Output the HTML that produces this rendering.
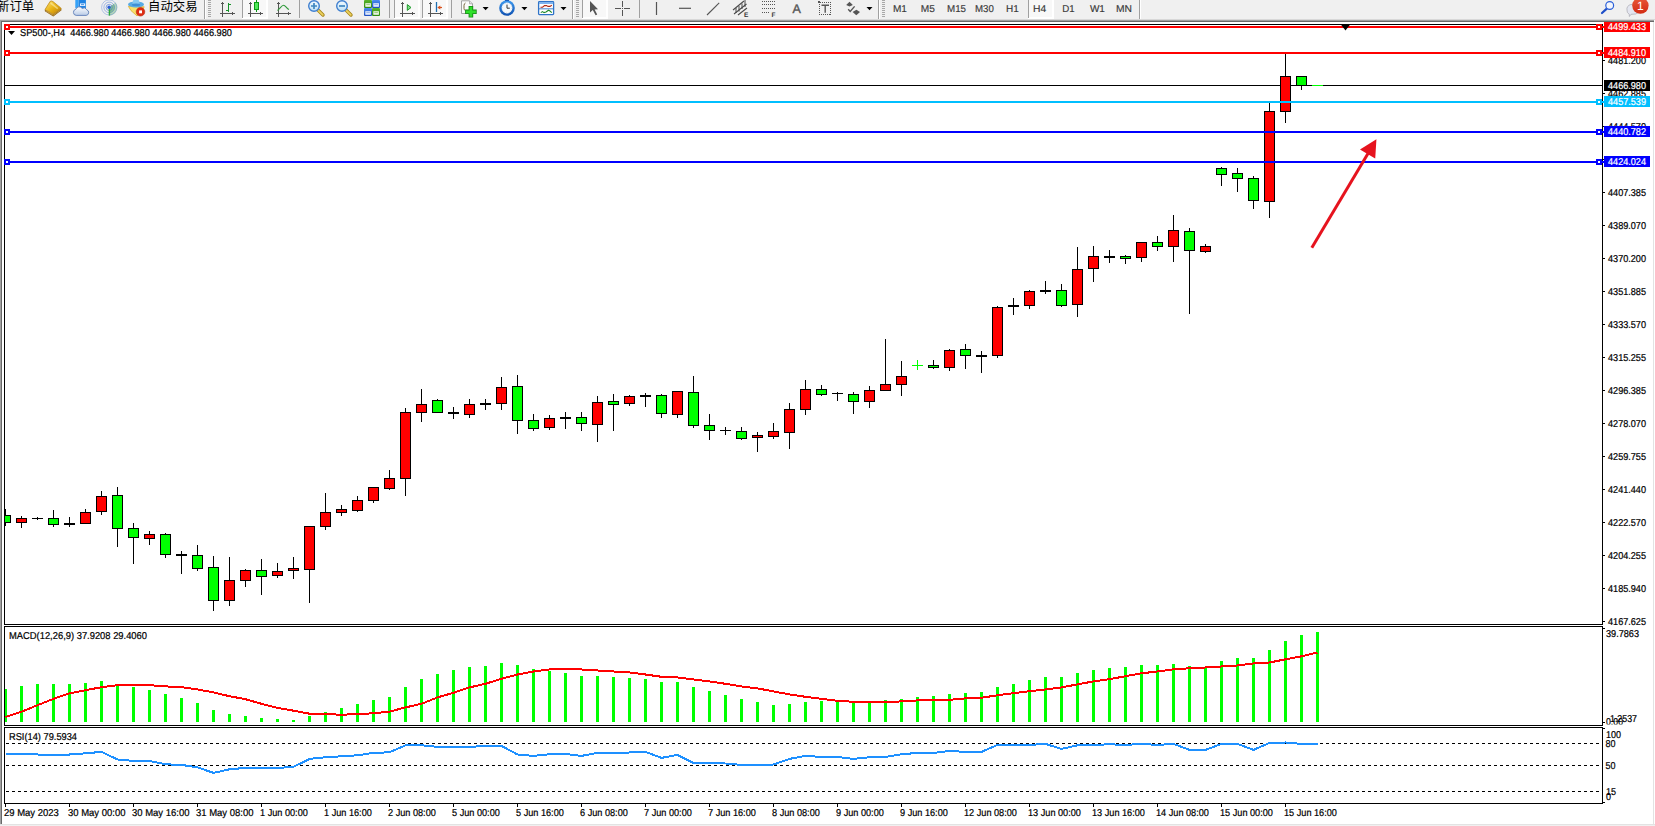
<!DOCTYPE html>
<html lang="zh-CN">
<head>
<meta charset="utf-8">
<title>SP500-,H4</title>
<style>
html,body{margin:0;padding:0;background:#fff;}
body{width:1655px;height:826px;overflow:hidden;position:relative;font-family:"Liberation Sans","Noto Sans CJK SC",sans-serif;}
#tb{position:absolute;left:0;top:0;width:1655px;height:20px;background:#f0f0f0;overflow:hidden;}
#tb .cjk{position:absolute;top:-2px;font-size:12.4px;line-height:18px;color:#000;white-space:nowrap;font-family:"Liberation Sans","Noto Sans CJK SC",sans-serif;}
#tb .tf{position:absolute;top:3px;font-size:9.5px;line-height:11px;color:#3c3c3c;white-space:nowrap;}
svg{position:absolute;left:0;top:0;}
svg text{font-family:"Liberation Sans",sans-serif;text-rendering:geometricPrecision;}
</style>
</head>
<body>
<div id="tb">
<span class="cjk" style="left:-3px">新订单</span>
<span class="cjk" style="left:148px">自动交易</span>
<svg id="tbi" width="1655" height="20" viewBox="0 0 1655 20">
<defs>
<linearGradient id="gold" x1="0" y1="0" x2="1" y2="1"><stop offset="0" stop-color="#fbe27a"/><stop offset="0.5" stop-color="#e9b416"/><stop offset="1" stop-color="#b97a08"/></linearGradient>
<linearGradient id="blu" x1="0" y1="0" x2="0" y2="1"><stop offset="0" stop-color="#5db4f5"/><stop offset="1" stop-color="#1c6fd6"/></linearGradient>
<linearGradient id="cld" x1="0" y1="0" x2="0" y2="1"><stop offset="0" stop-color="#ffffff"/><stop offset="1" stop-color="#b9cbe6"/></linearGradient>
<linearGradient id="lens" x1="0" y1="0" x2="0" y2="1"><stop offset="0" stop-color="#f4fbff"/><stop offset="1" stop-color="#bfe0f5"/></linearGradient>
<linearGradient id="grn" x1="0" y1="0" x2="0" y2="1"><stop offset="0" stop-color="#58b52a"/><stop offset="1" stop-color="#2f8a12"/></linearGradient>
<linearGradient id="bl2" x1="0" y1="0" x2="0" y2="1"><stop offset="0" stop-color="#4a8cf0"/><stop offset="1" stop-color="#1f4fc0"/></linearGradient>
<linearGradient id="redb" x1="0" y1="0" x2="0" y2="1"><stop offset="0" stop-color="#ea5a3a"/><stop offset="1" stop-color="#d22a12"/></linearGradient>
<linearGradient id="clk" x1="0" y1="0" x2="0" y2="1"><stop offset="0" stop-color="#3f9bf0"/><stop offset="1" stop-color="#0d4fb0"/></linearGradient>
</defs>
<!-- pressed buttons -->
<g shape-rendering="crispEdges">
<rect x="242" y="0" width="26" height="19" fill="#fff"/><rect x="242" y="0" width="24" height="17" fill="#f8f8f8"/><rect x="242" y="0" width="1" height="18" fill="#a0a0a0"/>
<rect x="394" y="0" width="26" height="19" fill="#fff"/><rect x="394" y="0" width="24" height="17" fill="#f8f8f8"/><rect x="394" y="0" width="1" height="18" fill="#a0a0a0"/>
<rect x="422" y="0" width="26" height="19" fill="#fff"/><rect x="422" y="0" width="24" height="17" fill="#f8f8f8"/><rect x="422" y="0" width="1" height="18" fill="#a0a0a0"/>
<rect x="582" y="0" width="26" height="19" fill="#fff"/><rect x="582" y="0" width="24" height="17" fill="#f8f8f8"/><rect x="582" y="0" width="1" height="18" fill="#a0a0a0"/>
<rect x="1028" y="0" width="26" height="19" fill="#fff"/><rect x="1028" y="0" width="24" height="17" fill="#f8f8f8"/><rect x="1028" y="0" width="1" height="18" fill="#a0a0a0"/>
<!-- toolbar separators -->
<rect x="204" y="0" width="1" height="20" fill="#a0a0a0"/><rect x="205" y="0" width="1" height="20" fill="#fff"/>
<rect x="572" y="0" width="1" height="20" fill="#a0a0a0"/><rect x="573" y="0" width="1" height="20" fill="#fff"/>
<rect x="878" y="0" width="1" height="20" fill="#a0a0a0"/><rect x="879" y="0" width="1" height="20" fill="#fff"/>
<rect x="1139" y="0" width="1" height="20" fill="#a0a0a0"/><rect x="1140" y="0" width="1" height="20" fill="#fff"/>
<!-- inner separators -->
<rect x="299" y="0" width="1" height="18" fill="#a0a0a0"/>
<rect x="389" y="0" width="1" height="18" fill="#a0a0a0"/>
<rect x="451" y="0" width="1" height="18" fill="#a0a0a0"/>
<rect x="639" y="0" width="1" height="18" fill="#a0a0a0"/>
<!-- grips -->
<g fill="#a8a8a8">
<rect x="208" y="0" width="3" height="1"/><rect x="208" y="2" width="3" height="1"/><rect x="208" y="4" width="3" height="1"/><rect x="208" y="6" width="3" height="1"/><rect x="208" y="8" width="3" height="1"/><rect x="208" y="10" width="3" height="1"/><rect x="208" y="12" width="3" height="1"/><rect x="208" y="14" width="3" height="1"/><rect x="208" y="16" width="3" height="1"/>
<rect x="576" y="0" width="3" height="1"/><rect x="576" y="2" width="3" height="1"/><rect x="576" y="4" width="3" height="1"/><rect x="576" y="6" width="3" height="1"/><rect x="576" y="8" width="3" height="1"/><rect x="576" y="10" width="3" height="1"/><rect x="576" y="12" width="3" height="1"/><rect x="576" y="14" width="3" height="1"/><rect x="576" y="16" width="3" height="1"/>
<rect x="882" y="0" width="3" height="1"/><rect x="882" y="2" width="3" height="1"/><rect x="882" y="4" width="3" height="1"/><rect x="882" y="6" width="3" height="1"/><rect x="882" y="8" width="3" height="1"/><rect x="882" y="10" width="3" height="1"/><rect x="882" y="12" width="3" height="1"/><rect x="882" y="14" width="3" height="1"/><rect x="882" y="16" width="3" height="1"/>
</g>
</g>
<!-- gold book -->
<g>
<polygon points="44.8,9.8 53,14.4 61.2,8.6 61.5,10.2 53.3,16.4 44.9,11.2" fill="#8a5a0a"/>
<path d="M46,11 L53.2,15.3 L61,9.6" fill="none" stroke="#e8c56a" stroke-width="0.6"/>
<path d="M50.2,1.3 Q51.6,0.5 53,1.6 L60.8,7.9 Q61.4,8.6 60.6,9.2 L53.1,14.3 L45,9.6 Z" fill="url(#gold)" stroke="#b8820f" stroke-width="0.7"/>
<path d="M50.6,3 L57.8,8.6" fill="none" stroke="#fff3b8" stroke-width="1.6" opacity="0.55"/>
</g>
<!-- server + cloud -->
<g>
<polygon points="75.3,0 78.6,0 78.6,9 75.3,8" fill="#35a2f8"/>
<rect x="78.6" y="0" width="7.3" height="9" fill="#1f84e4"/>
<rect x="80" y="3.4" width="5.2" height="2.6" fill="#e4f1ff"/>
<rect x="81" y="4.3" width="3" height="0.8" fill="#2a7bd8"/>
<path d="M76.2,15.4 a3.1,3.1 0 0 1 -0.4,-6.1 a3.6,3.6 0 0 1 6.4,-0.9 a3.3,3.3 0 0 1 4.6,1.4 a2.9,2.9 0 0 1 -0.6,5.6 z" fill="url(#cld)" stroke="#5f7fb8" stroke-width="0.9"/>
</g>
<!-- signal -->
<g fill="none">
<path d="M109.2,7.4 L109.2,15.4 A8,8 0 0 0 115.6,2.6 Z" fill="#7fc08a" opacity="0.55" stroke="none"/>
<path d="M109.2,7.4 L109.2,13 A5.6,5.6 0 0 0 113.6,4 Z" fill="#5fae6e" opacity="0.5" stroke="none"/>
<circle cx="109.2" cy="7.4" r="7.6" stroke="#6f92d8" stroke-width="0.9" opacity="0.55"/>
<circle cx="109.2" cy="7.4" r="5.3" stroke="#5a82d4" stroke-width="0.9" opacity="0.6"/>
<circle cx="109.2" cy="7.4" r="3.1" stroke="#4a74cf" stroke-width="0.9" opacity="0.7"/>
<path d="M109.4,15.6 L109.4,8" stroke="#2faa3c" stroke-width="1.4"/>
<circle cx="109.1" cy="7.3" r="1.7" fill="#2b5fd6" stroke="none"/>
</g>
<!-- auto trading -->
<g>
<polygon points="128.4,6.4 144.2,6.8 141.5,12 137,15.9 131,10.6" fill="#f7e16a" stroke="#d9a520" stroke-width="0.7"/>
<ellipse cx="136" cy="4.4" rx="8" ry="3" fill="#58aae4"/>
<path d="M132.4,4 Q132.6,-1.5 136,-1.5 Q139.4,-1.5 139.6,4 Z" fill="#86c8f0"/>
<ellipse cx="136" cy="4.8" rx="4.2" ry="1.2" fill="#3f8fd4"/>
<circle cx="140.5" cy="11.8" r="4.3" fill="#de2c12" stroke="#b01a08" stroke-width="0.5"/>
<rect x="139.1" y="10.4" width="2.9" height="2.9" fill="#fff"/>
</g>
<!-- bar chart icon -->
<g stroke="#555" stroke-width="1.3" fill="none">
<g shape-rendering="crispEdges" fill="#555" stroke="none"><rect x="222" y="2" width="1" height="15"/><rect x="221" y="3" width="3" height="1"/><rect x="220" y="13" width="15" height="1"/><rect x="232" y="12" width="1" height="3"/></g>

<g shape-rendering="crispEdges" fill="#16932a" stroke="none"><rect x="228" y="3" width="1" height="9"/><rect x="229" y="4" width="2" height="1"/><rect x="226" y="10" width="2" height="1"/></g>
</g>
<!-- candle icon -->
<g stroke="#555" stroke-width="1.3" fill="none">
<g shape-rendering="crispEdges" fill="#555" stroke="none"><rect x="250" y="2" width="1" height="15"/><rect x="249" y="3" width="3" height="1"/><rect x="248" y="13" width="15" height="1"/><rect x="260" y="12" width="1" height="3"/></g>

<g shape-rendering="crispEdges" stroke="none"><rect x="256" y="0" width="1" height="12" fill="#0a9a14"/><rect x="254" y="2" width="5" height="8" fill="#0a9a14"/></g><rect x="255" y="3" width="3" height="6" fill="#4fe85a" stroke="none"/>
</g>
<!-- line chart icon -->
<g stroke="#555" stroke-width="1.3" fill="none">
<g shape-rendering="crispEdges" fill="#555" stroke="none"><rect x="278" y="2" width="1" height="15"/><rect x="277" y="3" width="3" height="1"/><rect x="276" y="13" width="15" height="1"/><rect x="288" y="12" width="1" height="3"/></g>

<path d="M277.5,10.5 C280,9 281.5,5.2 283.5,5.2 C285.5,5.2 286.5,8.5 289,9.5" stroke="#2f9a3a" stroke-width="1.1"/>
</g>
<!-- zoom in -->
<g>
<path d="M318,10 L323,15" stroke="#a8861a" stroke-width="3.4" stroke-linecap="round"/>
<path d="M318.3,10.3 L322.8,14.8" stroke="#ecd260" stroke-width="1.8" stroke-linecap="round"/>
<circle cx="314" cy="6" r="5.3" fill="url(#lens)" stroke="#3f7fd0" stroke-width="1.4"/>
<path d="M311,6 H317 M314,3 V9" stroke="#3f86c0" stroke-width="1.7"/>
</g>
<!-- zoom out -->
<g>
<path d="M346,10 L351,15" stroke="#a8861a" stroke-width="3.4" stroke-linecap="round"/>
<path d="M346.3,10.3 L350.8,14.8" stroke="#ecd260" stroke-width="1.8" stroke-linecap="round"/>
<circle cx="342" cy="6" r="5.3" fill="url(#lens)" stroke="#3f7fd0" stroke-width="1.4"/>
<path d="M339,6 H345" stroke="#3f86c0" stroke-width="1.7"/>
</g>
<!-- tiles -->
<g>
<rect x="364" y="0" width="8" height="8" rx="1" fill="url(#grn)"/><rect x="372" y="0" width="8" height="8" rx="1" fill="url(#bl2)"/>
<rect x="364" y="8" width="8" height="8" rx="1" fill="url(#bl2)"/><rect x="372" y="8" width="8" height="8" rx="1" fill="url(#grn)"/>
<rect x="365.3" y="3.2" width="5.6" height="3.6" fill="#eef7e6"/><rect x="373.3" y="3.2" width="5.6" height="3.6" fill="#e6eefc"/>
<rect x="365.3" y="11.2" width="5.6" height="3.6" fill="#e6eefc"/><rect x="373.3" y="11.2" width="5.6" height="3.6" fill="#eef7e6"/>
<rect x="366.3" y="4.2" width="3.6" height="0.9" fill="#8fc870"/><rect x="374.3" y="4.2" width="3.6" height="0.9" fill="#8faee8"/>
<rect x="366.3" y="12.2" width="3.6" height="0.9" fill="#8faee8"/><rect x="374.3" y="12.2" width="3.6" height="0.9" fill="#8fc870"/>
</g>
<!-- chart shift icon -->
<g stroke="#555" stroke-width="1.3" fill="none">
<g shape-rendering="crispEdges" fill="#555" stroke="none"><rect x="402" y="2" width="1" height="15"/><rect x="401" y="3" width="3" height="1"/><rect x="400" y="13" width="15" height="1"/><rect x="412" y="12" width="1" height="3"/></g>

<polygon points="407.3,4.6 411,7.5 407.3,10.4" fill="#7fe08a" stroke="#1f9a2a" stroke-width="1"/>
</g>
<!-- autoscroll icon -->
<g stroke="#555" stroke-width="1.3" fill="none">
<g shape-rendering="crispEdges" fill="#555" stroke="none"><rect x="430" y="2" width="1" height="15"/><rect x="429" y="3" width="3" height="1"/><rect x="428" y="13" width="15" height="1"/><rect x="440" y="12" width="1" height="3"/></g>

<path d="M436.5,2 V12" stroke="#1f6fb0" stroke-width="1.3"/>
<path d="M442,7.5 H438" stroke="#d9531e" stroke-width="1.2"/>
<polygon points="437.3,7.5 440.3,5.4 440.3,9.6" fill="#d9531e" stroke="none"/>
</g>
<!-- doc plus -->
<g>
<path d="M461.5,0.8 H469.5 L472.5,3.8 V13.5 H461.5 Z" fill="#fafafa" stroke="#9a9a9a" stroke-width="0.9"/>
<path d="M469.5,0.8 V3.8 H472.5" fill="#e4e4e4" stroke="#9a9a9a" stroke-width="0.7"/>
<path d="M465.5,3 q-1.5,0.5 -1.5,2.5 v3 q0,1.5 1.2,2" fill="none" stroke="#6b5a2a" stroke-width="0.9"/>
<path d="M470.9,6 V17.6 M465.1,11.8 H476.7" stroke="#158a14" stroke-width="4.6"/>
<path d="M470.9,6.8 V16.8 M465.9,11.8 H475.9" stroke="#2fe02a" stroke-width="2.8"/>
</g>
<polygon points="482.6,7 488.6,7 485.6,10.2" fill="#000"/>
<!-- clock -->
<g>
<circle cx="507" cy="8" r="7.8" fill="url(#clk)"/>
<rect x="505" y="-1" width="4" height="2" fill="#1a5fc0"/>
<circle cx="507" cy="8" r="5.4" fill="#f4f8fc"/>
<path d="M507,4.6 V8.2 H509.8" fill="none" stroke="#333" stroke-width="1"/>
<circle cx="507" cy="8" r="5" fill="none" stroke="#a8b8c8" stroke-width="0.8" stroke-dasharray="0.7 1.9"/>
</g>
<polygon points="521.4,7 527.4,7 524.4,10.2" fill="#000"/>
<!-- template icon -->
<g>
<rect x="538.6" y="1.6" width="15" height="13" rx="0.8" fill="#fff" stroke="#2f73c8" stroke-width="1.3"/>
<rect x="539" y="2" width="14.2" height="2" fill="#7fb4ee"/>
<rect x="539" y="8.4" width="14.2" height="0.9" fill="#2f73c8"/>
<polyline points="540.5,7.2 542.5,7.2 544.5,5.6 546.5,5.6 548,6.4 550,6.4 551.8,5.2" fill="none" stroke="#b02a14" stroke-width="1.1"/>
<polyline points="540.8,12.6 542.5,11.6 544,12.6 546,12 548.5,10.2 550,11 551.8,12.6" fill="none" stroke="#1f8a2a" stroke-width="1.1"/>
</g>
<polygon points="560.5,7 566.5,7 563.5,10.2" fill="#000"/>
<!-- cursor -->
<polygon points="590,1 590,12.5 592.8,10 595.6,15.2 597.2,14.4 594.6,9.4 598,9.2" fill="#555"/>
<!-- crosshair -->
<path d="M622.5,1 V7 M622.5,9.6 V16 M615,8.3 H621.3 M623.8,8.3 H630" stroke="#555" stroke-width="1" shape-rendering="crispEdges"/>
<rect x="622" y="8" width="1" height="1" fill="#555" shape-rendering="crispEdges"/>
<!-- vline, hline, trendline -->
<path d="M656.5,2 V15" stroke="#555" stroke-width="1.2"/>
<path d="M679,8.3 H691" stroke="#555" stroke-width="1.2"/>
<path d="M707,15 L719.2,2.8" stroke="#555" stroke-width="1.1"/>
<!-- channel E -->
<g stroke="#4a4a4a" stroke-width="1.1" fill="none">
<path d="M733,10 L744,1 M734,14 L746.5,4 M738,15 L747,8"/>
<path d="M736,8 V13 M739,6 V11.5 M742,3.5 V9 M745,0 V7" stroke-width="1"/>
</g>
<text x="744" y="17" font-size="6.5" font-weight="bold" fill="#333" font-family="'Liberation Sans',sans-serif">E</text>
<!-- fib F -->
<g stroke="#555" stroke-width="1" stroke-dasharray="1 1" shape-rendering="crispEdges">
<path d="M762,1.5 H775 M762,4.5 H775 M762,8.5 H775 M762,12.5 H770"/>
</g>
<text x="771.5" y="17" font-size="6.5" font-weight="bold" fill="#333" font-family="'Liberation Sans',sans-serif">F</text>
<!-- A -->
<text x="792.6" y="13" font-size="12.5" fill="#555" stroke="#555" stroke-width="0.4" font-family="'Liberation Sans',sans-serif">A</text>
<!-- T box -->
<rect x="819.5" y="2.5" width="11" height="12" fill="none" stroke="#555" stroke-width="1" stroke-dasharray="1 1" shape-rendering="crispEdges"/>
<rect x="818" y="1" width="2" height="2" fill="#555"/>
<path d="M821.5,5.3 H829 M825.2,5.3 V12.8" stroke="#555" stroke-width="1.4"/>
<!-- arrows icon -->
<g fill="#555">
<polygon points="846.2,5 849.5,1.8 852.8,5 849.5,6.6"/>
<polygon points="852.6,12 856.4,9.8 860,12 856.3,15.2"/>
<path d="M848.2,9.2 L850.2,11.4 L854.6,6.4" fill="none" stroke="#555" stroke-width="1.4"/>
</g>
<polygon points="866.5,7 872.5,7 869.5,10.2" fill="#000"/>
<g font-size="10" fill="#383838" stroke="#383838" stroke-width="0.15" font-family="'Liberation Sans',sans-serif" style="text-rendering:geometricPrecision">
<text x="892.9" y="12" textLength="14.0" lengthAdjust="spacingAndGlyphs">M1</text>
<text x="920.8" y="12" textLength="14.1" lengthAdjust="spacingAndGlyphs">M5</text>
<text x="947.0" y="12" textLength="19.0" lengthAdjust="spacingAndGlyphs">M15</text>
<text x="975.0" y="12" textLength="18.8" lengthAdjust="spacingAndGlyphs">M30</text>
<text x="1006.0" y="12" textLength="12.8" lengthAdjust="spacingAndGlyphs">H1</text>
<text x="1033.1" y="12" textLength="13.2" lengthAdjust="spacingAndGlyphs">H4</text>
<text x="1062.2" y="12" textLength="12.4" lengthAdjust="spacingAndGlyphs">D1</text>
<text x="1089.9" y="12" textLength="15.0" lengthAdjust="spacingAndGlyphs">W1</text>
<text x="1116.0" y="12" textLength="16.0" lengthAdjust="spacingAndGlyphs">MN</text>
</g>
<!-- search -->
<g>
<path d="M1606.8,8.6 L1602,13" stroke="#1f4fc8" stroke-width="2.2" stroke-linecap="round"/>
<circle cx="1609.7" cy="5.5" r="3.9" fill="#f4f6fc" stroke="#2a5fd8" stroke-width="1.2"/>
</g>
<!-- chat + badge -->
<g>
<path d="M1627,10 a5,4.5 0 0 1 10,-2 a5,4 0 0 1 -1,6 l-5,0.3 l-1.6,2.2 l-0.2,-2.4 a4,4 0 0 1 -2.2,-4.1z" fill="#e4e6f0" stroke="#a8a8b0" stroke-width="0.7"/>
<circle cx="1640.4" cy="5.6" r="8.2" fill="url(#redb)"/>
<text x="1640.4" y="10" font-size="12" fill="#fff" text-anchor="middle" font-family="'Liberation Sans',sans-serif">1</text>
</g>
</svg>

</div>
<svg id="chart" width="1655" height="826" viewBox="0 0 1655 826" shape-rendering="crispEdges" style="pointer-events:none">
<defs><clipPath id="cm"><rect x="1603" y="626" width="50" height="98.5"/></clipPath></defs>
<rect x="0" y="19" width="1655" height="1" fill="#d8d8d8"/>
<rect x="0" y="20" width="1654" height="1" fill="#a0a0a0"/>
<rect x="0" y="21" width="1654" height="1" fill="#696969"/>
<rect x="0" y="20" width="1" height="804" fill="#a0a0a0"/>
<rect x="1" y="21" width="1" height="803" fill="#696969"/>
<rect x="1653" y="22" width="1" height="802" fill="#e3e3e3"/>
<rect x="0" y="824" width="1655" height="1" fill="#e3e3e3"/>
<rect x="0" y="825" width="1655" height="1" fill="#f0f0f0"/>
<rect x="4" y="24" width="1599" height="1" fill="#000"/>
<rect x="4" y="24" width="1" height="601" fill="#000"/>
<rect x="1602" y="24" width="1" height="601" fill="#000"/>
<rect x="1602" y="626" width="1" height="100" fill="#000"/>
<rect x="1602" y="727" width="1" height="77" fill="#000"/>
<rect x="4" y="624" width="1599" height="1" fill="#000"/>
<rect x="4" y="626" width="1599" height="1" fill="#000"/>
<rect x="4" y="626" width="1" height="100" fill="#000"/>
<rect x="4" y="725" width="1599" height="1" fill="#000"/>
<rect x="4" y="727" width="1599" height="1" fill="#000"/>
<rect x="4" y="727" width="1" height="77" fill="#000"/>
<rect x="4" y="803" width="1599" height="1" fill="#000"/>
<rect x="1603" y="621" width="2" height="1" fill="#000"/>
<text x="1608" y="625" fill="#000" stroke="#000" stroke-width="0.22" font-size="10" textLength="38" lengthAdjust="spacingAndGlyphs">4167.625</text>
<rect x="1603" y="588" width="2" height="1" fill="#000"/>
<text x="1608" y="592" fill="#000" stroke="#000" stroke-width="0.22" font-size="10" textLength="38" lengthAdjust="spacingAndGlyphs">4185.940</text>
<rect x="1603" y="555" width="2" height="1" fill="#000"/>
<text x="1608" y="559" fill="#000" stroke="#000" stroke-width="0.22" font-size="10" textLength="38" lengthAdjust="spacingAndGlyphs">4204.255</text>
<rect x="1603" y="522" width="2" height="1" fill="#000"/>
<text x="1608" y="526" fill="#000" stroke="#000" stroke-width="0.22" font-size="10" textLength="38" lengthAdjust="spacingAndGlyphs">4222.570</text>
<rect x="1603" y="489" width="2" height="1" fill="#000"/>
<text x="1608" y="493" fill="#000" stroke="#000" stroke-width="0.22" font-size="10" textLength="38" lengthAdjust="spacingAndGlyphs">4241.440</text>
<rect x="1603" y="456" width="2" height="1" fill="#000"/>
<text x="1608" y="460" fill="#000" stroke="#000" stroke-width="0.22" font-size="10" textLength="38" lengthAdjust="spacingAndGlyphs">4259.755</text>
<rect x="1603" y="423" width="2" height="1" fill="#000"/>
<text x="1608" y="427" fill="#000" stroke="#000" stroke-width="0.22" font-size="10" textLength="38" lengthAdjust="spacingAndGlyphs">4278.070</text>
<rect x="1603" y="390" width="2" height="1" fill="#000"/>
<text x="1608" y="394" fill="#000" stroke="#000" stroke-width="0.22" font-size="10" textLength="38" lengthAdjust="spacingAndGlyphs">4296.385</text>
<rect x="1603" y="357" width="2" height="1" fill="#000"/>
<text x="1608" y="361" fill="#000" stroke="#000" stroke-width="0.22" font-size="10" textLength="38" lengthAdjust="spacingAndGlyphs">4315.255</text>
<rect x="1603" y="324" width="2" height="1" fill="#000"/>
<text x="1608" y="328" fill="#000" stroke="#000" stroke-width="0.22" font-size="10" textLength="38" lengthAdjust="spacingAndGlyphs">4333.570</text>
<rect x="1603" y="291" width="2" height="1" fill="#000"/>
<text x="1608" y="295" fill="#000" stroke="#000" stroke-width="0.22" font-size="10" textLength="38" lengthAdjust="spacingAndGlyphs">4351.885</text>
<rect x="1603" y="258" width="2" height="1" fill="#000"/>
<text x="1608" y="262" fill="#000" stroke="#000" stroke-width="0.22" font-size="10" textLength="38" lengthAdjust="spacingAndGlyphs">4370.200</text>
<rect x="1603" y="225" width="2" height="1" fill="#000"/>
<text x="1608" y="229" fill="#000" stroke="#000" stroke-width="0.22" font-size="10" textLength="38" lengthAdjust="spacingAndGlyphs">4389.070</text>
<rect x="1603" y="192" width="2" height="1" fill="#000"/>
<text x="1608" y="196" fill="#000" stroke="#000" stroke-width="0.22" font-size="10" textLength="38" lengthAdjust="spacingAndGlyphs">4407.385</text>
<rect x="1603" y="159" width="2" height="1" fill="#000"/>
<text x="1608" y="163" fill="#000" stroke="#000" stroke-width="0.22" font-size="10" textLength="38" lengthAdjust="spacingAndGlyphs">4425.700</text>
<rect x="1603" y="126" width="2" height="1" fill="#000"/>
<text x="1608" y="130" fill="#000" stroke="#000" stroke-width="0.22" font-size="10" textLength="38" lengthAdjust="spacingAndGlyphs">4444.570</text>
<rect x="1603" y="93" width="2" height="1" fill="#000"/>
<text x="1608" y="97" fill="#000" stroke="#000" stroke-width="0.22" font-size="10" textLength="38" lengthAdjust="spacingAndGlyphs">4462.885</text>
<rect x="1603" y="60" width="2" height="1" fill="#000"/>
<text x="1608" y="64" fill="#000" stroke="#000" stroke-width="0.22" font-size="10" textLength="38" lengthAdjust="spacingAndGlyphs">4481.200</text>
<rect x="5" y="85" width="1597" height="1" fill="#000"/>
<rect x="5" y="509" width="1" height="17" fill="#000"/>
<rect x="4" y="515" width="7" height="8" fill="#000"/>
<rect x="5" y="516" width="5" height="6" fill="#00ff00"/>
<rect x="21" y="516" width="1" height="12" fill="#000"/>
<rect x="16" y="518" width="11" height="5" fill="#000"/>
<rect x="17" y="519" width="9" height="3" fill="#ff0000"/>
<rect x="37" y="517" width="1" height="3" fill="#000"/>
<rect x="32" y="518" width="11" height="1" fill="#000"/>
<rect x="53" y="510" width="1" height="17" fill="#000"/>
<rect x="48" y="518" width="11" height="7" fill="#000"/>
<rect x="49" y="519" width="9" height="5" fill="#00ff00"/>
<rect x="69" y="517" width="1" height="10" fill="#000"/>
<rect x="64" y="523" width="11" height="2" fill="#000"/>
<rect x="85" y="509" width="1" height="14" fill="#000"/>
<rect x="80" y="512" width="11" height="12" fill="#000"/>
<rect x="81" y="513" width="9" height="10" fill="#ff0000"/>
<rect x="101" y="491" width="1" height="24" fill="#000"/>
<rect x="96" y="496" width="11" height="16" fill="#000"/>
<rect x="97" y="497" width="9" height="14" fill="#ff0000"/>
<rect x="117" y="487" width="1" height="60" fill="#000"/>
<rect x="112" y="495" width="11" height="34" fill="#000"/>
<rect x="113" y="496" width="9" height="32" fill="#00ff00"/>
<rect x="133" y="523" width="1" height="41" fill="#000"/>
<rect x="128" y="528" width="11" height="10" fill="#000"/>
<rect x="129" y="529" width="9" height="8" fill="#00ff00"/>
<rect x="149" y="531" width="1" height="14" fill="#000"/>
<rect x="144" y="534" width="11" height="5" fill="#000"/>
<rect x="145" y="535" width="9" height="3" fill="#ff0000"/>
<rect x="165" y="533" width="1" height="25" fill="#000"/>
<rect x="160" y="534" width="11" height="21" fill="#000"/>
<rect x="161" y="535" width="9" height="19" fill="#00ff00"/>
<rect x="181" y="551" width="1" height="23" fill="#000"/>
<rect x="176" y="554" width="11" height="2" fill="#000"/>
<rect x="197" y="545" width="1" height="26" fill="#000"/>
<rect x="192" y="555" width="11" height="14" fill="#000"/>
<rect x="193" y="556" width="9" height="12" fill="#00ff00"/>
<rect x="213" y="556" width="1" height="55" fill="#000"/>
<rect x="208" y="567" width="11" height="34" fill="#000"/>
<rect x="209" y="568" width="9" height="32" fill="#00ff00"/>
<rect x="229" y="557" width="1" height="49" fill="#000"/>
<rect x="224" y="580" width="11" height="21" fill="#000"/>
<rect x="225" y="581" width="9" height="19" fill="#ff0000"/>
<rect x="245" y="569" width="1" height="18" fill="#000"/>
<rect x="240" y="570" width="11" height="11" fill="#000"/>
<rect x="241" y="571" width="9" height="9" fill="#ff0000"/>
<rect x="261" y="559" width="1" height="36" fill="#000"/>
<rect x="256" y="570" width="11" height="7" fill="#000"/>
<rect x="257" y="571" width="9" height="5" fill="#00ff00"/>
<rect x="277" y="563" width="1" height="15" fill="#000"/>
<rect x="272" y="571" width="11" height="5" fill="#000"/>
<rect x="273" y="572" width="9" height="3" fill="#ff0000"/>
<rect x="293" y="557" width="1" height="22" fill="#000"/>
<rect x="288" y="568" width="11" height="3" fill="#000"/>
<rect x="289" y="569" width="9" height="1" fill="#ff0000"/>
<rect x="309" y="526" width="1" height="77" fill="#000"/>
<rect x="304" y="526" width="11" height="44" fill="#000"/>
<rect x="305" y="527" width="9" height="42" fill="#ff0000"/>
<rect x="325" y="493" width="1" height="37" fill="#000"/>
<rect x="320" y="512" width="11" height="15" fill="#000"/>
<rect x="321" y="513" width="9" height="13" fill="#ff0000"/>
<rect x="341" y="505" width="1" height="11" fill="#000"/>
<rect x="336" y="509" width="11" height="4" fill="#000"/>
<rect x="337" y="510" width="9" height="2" fill="#ff0000"/>
<rect x="357" y="496" width="1" height="16" fill="#000"/>
<rect x="352" y="500" width="11" height="11" fill="#000"/>
<rect x="353" y="501" width="9" height="9" fill="#ff0000"/>
<rect x="373" y="487" width="1" height="16" fill="#000"/>
<rect x="368" y="487" width="11" height="14" fill="#000"/>
<rect x="369" y="488" width="9" height="12" fill="#ff0000"/>
<rect x="389" y="470" width="1" height="20" fill="#000"/>
<rect x="384" y="478" width="11" height="11" fill="#000"/>
<rect x="385" y="479" width="9" height="9" fill="#ff0000"/>
<rect x="405" y="408" width="1" height="88" fill="#000"/>
<rect x="400" y="412" width="11" height="67" fill="#000"/>
<rect x="401" y="413" width="9" height="65" fill="#ff0000"/>
<rect x="421" y="389" width="1" height="33" fill="#000"/>
<rect x="416" y="404" width="11" height="9" fill="#000"/>
<rect x="417" y="405" width="9" height="7" fill="#ff0000"/>
<rect x="437" y="399" width="1" height="14" fill="#000"/>
<rect x="432" y="400" width="11" height="13" fill="#000"/>
<rect x="433" y="401" width="9" height="11" fill="#00ff00"/>
<rect x="453" y="407" width="1" height="12" fill="#000"/>
<rect x="448" y="412" width="11" height="2" fill="#000"/>
<rect x="469" y="399" width="1" height="19" fill="#000"/>
<rect x="464" y="404" width="11" height="11" fill="#000"/>
<rect x="465" y="405" width="9" height="9" fill="#ff0000"/>
<rect x="485" y="399" width="1" height="11" fill="#000"/>
<rect x="480" y="403" width="11" height="2" fill="#000"/>
<rect x="501" y="377" width="1" height="33" fill="#000"/>
<rect x="496" y="387" width="11" height="17" fill="#000"/>
<rect x="497" y="388" width="9" height="15" fill="#ff0000"/>
<rect x="517" y="375" width="1" height="59" fill="#000"/>
<rect x="512" y="386" width="11" height="35" fill="#000"/>
<rect x="513" y="387" width="9" height="33" fill="#00ff00"/>
<rect x="533" y="414" width="1" height="17" fill="#000"/>
<rect x="528" y="420" width="11" height="9" fill="#000"/>
<rect x="529" y="421" width="9" height="7" fill="#00ff00"/>
<rect x="549" y="415" width="1" height="15" fill="#000"/>
<rect x="544" y="418" width="11" height="10" fill="#000"/>
<rect x="545" y="419" width="9" height="8" fill="#ff0000"/>
<rect x="565" y="412" width="1" height="17" fill="#000"/>
<rect x="560" y="417" width="11" height="2" fill="#000"/>
<rect x="581" y="412" width="1" height="19" fill="#000"/>
<rect x="576" y="417" width="11" height="7" fill="#000"/>
<rect x="577" y="418" width="9" height="5" fill="#00ff00"/>
<rect x="597" y="396" width="1" height="46" fill="#000"/>
<rect x="592" y="402" width="11" height="23" fill="#000"/>
<rect x="593" y="403" width="9" height="21" fill="#ff0000"/>
<rect x="613" y="394" width="1" height="37" fill="#000"/>
<rect x="608" y="401" width="11" height="4" fill="#000"/>
<rect x="609" y="402" width="9" height="2" fill="#00ff00"/>
<rect x="629" y="395" width="1" height="11" fill="#000"/>
<rect x="624" y="396" width="11" height="8" fill="#000"/>
<rect x="625" y="397" width="9" height="6" fill="#ff0000"/>
<rect x="645" y="393" width="1" height="14" fill="#000"/>
<rect x="640" y="395" width="11" height="2" fill="#000"/>
<rect x="661" y="394" width="1" height="24" fill="#000"/>
<rect x="656" y="395" width="11" height="19" fill="#000"/>
<rect x="657" y="396" width="9" height="17" fill="#00ff00"/>
<rect x="677" y="391" width="1" height="27" fill="#000"/>
<rect x="672" y="391" width="11" height="24" fill="#000"/>
<rect x="673" y="392" width="9" height="22" fill="#ff0000"/>
<rect x="693" y="376" width="1" height="52" fill="#000"/>
<rect x="688" y="392" width="11" height="34" fill="#000"/>
<rect x="689" y="393" width="9" height="32" fill="#00ff00"/>
<rect x="709" y="414" width="1" height="26" fill="#000"/>
<rect x="704" y="425" width="11" height="6" fill="#000"/>
<rect x="705" y="426" width="9" height="4" fill="#00ff00"/>
<rect x="725" y="427" width="1" height="8" fill="#000"/>
<rect x="720" y="430" width="11" height="1" fill="#000"/>
<rect x="741" y="427" width="1" height="13" fill="#000"/>
<rect x="736" y="431" width="11" height="8" fill="#000"/>
<rect x="737" y="432" width="9" height="6" fill="#00ff00"/>
<rect x="757" y="432" width="1" height="20" fill="#000"/>
<rect x="752" y="435" width="11" height="3" fill="#000"/>
<rect x="753" y="436" width="9" height="1" fill="#ff0000"/>
<rect x="773" y="423" width="1" height="16" fill="#000"/>
<rect x="768" y="431" width="11" height="6" fill="#000"/>
<rect x="769" y="432" width="9" height="4" fill="#ff0000"/>
<rect x="789" y="403" width="1" height="46" fill="#000"/>
<rect x="784" y="409" width="11" height="24" fill="#000"/>
<rect x="785" y="410" width="9" height="22" fill="#ff0000"/>
<rect x="805" y="380" width="1" height="35" fill="#000"/>
<rect x="800" y="389" width="11" height="21" fill="#000"/>
<rect x="801" y="390" width="9" height="19" fill="#ff0000"/>
<rect x="821" y="385" width="1" height="11" fill="#000"/>
<rect x="816" y="389" width="11" height="6" fill="#000"/>
<rect x="817" y="390" width="9" height="4" fill="#00ff00"/>
<rect x="837" y="392" width="1" height="9" fill="#000"/>
<rect x="832" y="393" width="11" height="1" fill="#000"/>
<rect x="853" y="392" width="1" height="22" fill="#000"/>
<rect x="848" y="394" width="11" height="8" fill="#000"/>
<rect x="849" y="395" width="9" height="6" fill="#00ff00"/>
<rect x="869" y="386" width="1" height="22" fill="#000"/>
<rect x="864" y="390" width="11" height="12" fill="#000"/>
<rect x="865" y="391" width="9" height="10" fill="#ff0000"/>
<rect x="885" y="339" width="1" height="52" fill="#000"/>
<rect x="880" y="384" width="11" height="7" fill="#000"/>
<rect x="881" y="385" width="9" height="5" fill="#ff0000"/>
<rect x="901" y="361" width="1" height="35" fill="#000"/>
<rect x="896" y="376" width="11" height="9" fill="#000"/>
<rect x="897" y="377" width="9" height="7" fill="#ff0000"/>
<rect x="917" y="360" width="1" height="10" fill="#00ff00"/>
<rect x="912" y="365" width="11" height="1" fill="#00ff00"/>
<rect x="933" y="360" width="1" height="9" fill="#000"/>
<rect x="928" y="365" width="11" height="3" fill="#000"/>
<rect x="929" y="366" width="9" height="1" fill="#00ff00"/>
<rect x="949" y="349" width="1" height="22" fill="#000"/>
<rect x="944" y="350" width="11" height="18" fill="#000"/>
<rect x="945" y="351" width="9" height="16" fill="#ff0000"/>
<rect x="965" y="344" width="1" height="25" fill="#000"/>
<rect x="960" y="349" width="11" height="7" fill="#000"/>
<rect x="961" y="350" width="9" height="5" fill="#00ff00"/>
<rect x="981" y="351" width="1" height="22" fill="#000"/>
<rect x="976" y="355" width="11" height="2" fill="#000"/>
<rect x="997" y="306" width="1" height="52" fill="#000"/>
<rect x="992" y="307" width="11" height="49" fill="#000"/>
<rect x="993" y="308" width="9" height="47" fill="#ff0000"/>
<rect x="1013" y="298" width="1" height="17" fill="#000"/>
<rect x="1008" y="305" width="11" height="2" fill="#000"/>
<rect x="1029" y="290" width="1" height="19" fill="#000"/>
<rect x="1024" y="291" width="11" height="15" fill="#000"/>
<rect x="1025" y="292" width="9" height="13" fill="#ff0000"/>
<rect x="1045" y="281" width="1" height="13" fill="#000"/>
<rect x="1040" y="290" width="11" height="2" fill="#000"/>
<rect x="1061" y="284" width="1" height="23" fill="#000"/>
<rect x="1056" y="290" width="11" height="16" fill="#000"/>
<rect x="1057" y="291" width="9" height="14" fill="#00ff00"/>
<rect x="1077" y="247" width="1" height="70" fill="#000"/>
<rect x="1072" y="269" width="11" height="36" fill="#000"/>
<rect x="1073" y="270" width="9" height="34" fill="#ff0000"/>
<rect x="1093" y="246" width="1" height="36" fill="#000"/>
<rect x="1088" y="256" width="11" height="13" fill="#000"/>
<rect x="1089" y="257" width="9" height="11" fill="#ff0000"/>
<rect x="1109" y="250" width="1" height="13" fill="#000"/>
<rect x="1104" y="256" width="11" height="2" fill="#000"/>
<rect x="1125" y="255" width="1" height="9" fill="#000"/>
<rect x="1120" y="256" width="11" height="3" fill="#000"/>
<rect x="1121" y="257" width="9" height="1" fill="#00ff00"/>
<rect x="1141" y="242" width="1" height="20" fill="#000"/>
<rect x="1136" y="242" width="11" height="16" fill="#000"/>
<rect x="1137" y="243" width="9" height="14" fill="#ff0000"/>
<rect x="1157" y="236" width="1" height="15" fill="#000"/>
<rect x="1152" y="242" width="11" height="5" fill="#000"/>
<rect x="1153" y="243" width="9" height="3" fill="#00ff00"/>
<rect x="1173" y="215" width="1" height="47" fill="#000"/>
<rect x="1168" y="230" width="11" height="17" fill="#000"/>
<rect x="1169" y="231" width="9" height="15" fill="#ff0000"/>
<rect x="1189" y="228" width="1" height="86" fill="#000"/>
<rect x="1184" y="231" width="11" height="20" fill="#000"/>
<rect x="1185" y="232" width="9" height="18" fill="#00ff00"/>
<rect x="1205" y="244" width="1" height="9" fill="#000"/>
<rect x="1200" y="246" width="11" height="6" fill="#000"/>
<rect x="1201" y="247" width="9" height="4" fill="#ff0000"/>
<rect x="1221" y="167" width="1" height="19" fill="#000"/>
<rect x="1216" y="168" width="11" height="7" fill="#000"/>
<rect x="1217" y="169" width="9" height="5" fill="#00ff00"/>
<rect x="1237" y="168" width="1" height="24" fill="#000"/>
<rect x="1232" y="173" width="11" height="6" fill="#000"/>
<rect x="1233" y="174" width="9" height="4" fill="#00ff00"/>
<rect x="1253" y="176" width="1" height="33" fill="#000"/>
<rect x="1248" y="178" width="11" height="23" fill="#000"/>
<rect x="1249" y="179" width="9" height="21" fill="#00ff00"/>
<rect x="1269" y="102" width="1" height="116" fill="#000"/>
<rect x="1264" y="111" width="11" height="91" fill="#000"/>
<rect x="1265" y="112" width="9" height="89" fill="#ff0000"/>
<rect x="1285" y="54" width="1" height="69" fill="#000"/>
<rect x="1280" y="76" width="11" height="36" fill="#000"/>
<rect x="1281" y="77" width="9" height="34" fill="#ff0000"/>
<rect x="1301" y="76" width="1" height="14" fill="#000"/>
<rect x="1296" y="76" width="11" height="10" fill="#000"/>
<rect x="1297" y="77" width="9" height="8" fill="#00ff00"/>
<rect x="1312" y="85" width="11" height="1" fill="#00ff00"/>
<rect x="5" y="26" width="1599" height="2" fill="#ff0000"/>
<rect x="4" y="24" width="6" height="6" fill="#ff0000"/>
<rect x="6" y="26" width="2" height="2" fill="#fff"/>
<rect x="1596" y="24" width="6" height="6" fill="#ff0000"/>
<rect x="1598" y="26" width="2" height="2" fill="#fff"/>
<rect x="1604" y="22" width="46" height="10" fill="#ff0000"/>
<text x="1608" y="30" fill="#fff" stroke="#fff" stroke-width="0.22" font-size="10" textLength="38" lengthAdjust="spacingAndGlyphs">4499.433</text>
<rect x="5" y="52" width="1599" height="2" fill="#ff0000"/>
<rect x="4" y="50" width="6" height="6" fill="#ff0000"/>
<rect x="6" y="52" width="2" height="2" fill="#fff"/>
<rect x="1596" y="50" width="6" height="6" fill="#ff0000"/>
<rect x="1598" y="52" width="2" height="2" fill="#fff"/>
<rect x="1604" y="47" width="46" height="11" fill="#ff0000"/>
<text x="1608" y="56" fill="#fff" stroke="#fff" stroke-width="0.22" font-size="10" textLength="38" lengthAdjust="spacingAndGlyphs">4484.910</text>
<rect x="5" y="101" width="1599" height="2" fill="#00bfff"/>
<rect x="4" y="99" width="6" height="6" fill="#00bfff"/>
<rect x="6" y="101" width="2" height="2" fill="#fff"/>
<rect x="1596" y="99" width="6" height="6" fill="#00bfff"/>
<rect x="1598" y="101" width="2" height="2" fill="#fff"/>
<rect x="1604" y="96" width="46" height="11" fill="#00bfff"/>
<text x="1608" y="105" fill="#fff" stroke="#fff" stroke-width="0.22" font-size="10" textLength="38" lengthAdjust="spacingAndGlyphs">4457.539</text>
<rect x="5" y="131" width="1599" height="2" fill="#0000ff"/>
<rect x="4" y="129" width="6" height="6" fill="#0000ff"/>
<rect x="6" y="131" width="2" height="2" fill="#fff"/>
<rect x="1596" y="129" width="6" height="6" fill="#0000ff"/>
<rect x="1598" y="131" width="2" height="2" fill="#fff"/>
<rect x="1604" y="126" width="46" height="11" fill="#0000ff"/>
<text x="1608" y="135" fill="#fff" stroke="#fff" stroke-width="0.22" font-size="10" textLength="38" lengthAdjust="spacingAndGlyphs">4440.782</text>
<rect x="5" y="161" width="1599" height="2" fill="#0000ff"/>
<rect x="4" y="159" width="6" height="6" fill="#0000ff"/>
<rect x="6" y="161" width="2" height="2" fill="#fff"/>
<rect x="1596" y="159" width="6" height="6" fill="#0000ff"/>
<rect x="1598" y="161" width="2" height="2" fill="#fff"/>
<rect x="1604" y="156" width="46" height="11" fill="#0000ff"/>
<text x="1608" y="165" fill="#fff" stroke="#fff" stroke-width="0.22" font-size="10" textLength="38" lengthAdjust="spacingAndGlyphs">4424.024</text>
<rect x="1604" y="80" width="46" height="11" fill="#000"/>
<text x="1608" y="89" fill="#fff" stroke="#fff" stroke-width="0.22" font-size="10" textLength="38" lengthAdjust="spacingAndGlyphs">4466.980</text>
<polygon points="1340.5,24 1350.5,24 1345.5,30.5" fill="#000" shape-rendering="auto"/>
<g shape-rendering="auto"><line x1="1311.8" y1="247.8" x2="1368" y2="153.4" stroke="#e6131e" stroke-width="3"/><polygon points="1376.4,139.2 1360,149.6 1375.2,158.4" fill="#e6131e"/></g>
<polygon points="8,31 15,31 11.5,35" fill="#000" shape-rendering="auto"/>
<text x="20" y="36" fill="#000" stroke="#000" stroke-width="0.22" font-size="10" textLength="212" lengthAdjust="spacingAndGlyphs" xml:space="preserve">SP500-,H4&#160; 4466.980 4466.980 4466.980 4466.980</text>
<rect x="5" y="689" width="2" height="33" fill="#00ff00"/>
<rect x="20" y="686" width="3" height="36" fill="#00ff00"/>
<rect x="36" y="684" width="3" height="38" fill="#00ff00"/>
<rect x="52" y="684" width="3" height="38" fill="#00ff00"/>
<rect x="68" y="684" width="3" height="38" fill="#00ff00"/>
<rect x="84" y="683" width="3" height="39" fill="#00ff00"/>
<rect x="100" y="681" width="3" height="41" fill="#00ff00"/>
<rect x="116" y="684" width="3" height="38" fill="#00ff00"/>
<rect x="132" y="687" width="3" height="35" fill="#00ff00"/>
<rect x="148" y="690" width="3" height="32" fill="#00ff00"/>
<rect x="164" y="694" width="3" height="28" fill="#00ff00"/>
<rect x="180" y="698" width="3" height="24" fill="#00ff00"/>
<rect x="196" y="703" width="3" height="19" fill="#00ff00"/>
<rect x="212" y="710" width="3" height="12" fill="#00ff00"/>
<rect x="228" y="714" width="3" height="8" fill="#00ff00"/>
<rect x="244" y="716" width="3" height="6" fill="#00ff00"/>
<rect x="260" y="718" width="3" height="4" fill="#00ff00"/>
<rect x="276" y="719" width="3" height="3" fill="#00ff00"/>
<rect x="292" y="720" width="3" height="2" fill="#00ff00"/>
<rect x="308" y="716" width="3" height="6" fill="#00ff00"/>
<rect x="324" y="712" width="3" height="10" fill="#00ff00"/>
<rect x="340" y="708" width="3" height="14" fill="#00ff00"/>
<rect x="356" y="704" width="3" height="18" fill="#00ff00"/>
<rect x="372" y="700" width="3" height="22" fill="#00ff00"/>
<rect x="388" y="697" width="3" height="25" fill="#00ff00"/>
<rect x="404" y="687" width="3" height="35" fill="#00ff00"/>
<rect x="420" y="679" width="3" height="43" fill="#00ff00"/>
<rect x="436" y="674" width="3" height="48" fill="#00ff00"/>
<rect x="452" y="670" width="3" height="52" fill="#00ff00"/>
<rect x="468" y="667" width="3" height="55" fill="#00ff00"/>
<rect x="484" y="666" width="3" height="56" fill="#00ff00"/>
<rect x="500" y="663" width="3" height="59" fill="#00ff00"/>
<rect x="516" y="665" width="3" height="57" fill="#00ff00"/>
<rect x="532" y="669" width="3" height="53" fill="#00ff00"/>
<rect x="548" y="671" width="3" height="51" fill="#00ff00"/>
<rect x="564" y="673" width="3" height="49" fill="#00ff00"/>
<rect x="580" y="676" width="3" height="46" fill="#00ff00"/>
<rect x="596" y="676" width="3" height="46" fill="#00ff00"/>
<rect x="612" y="677" width="3" height="45" fill="#00ff00"/>
<rect x="628" y="678" width="3" height="44" fill="#00ff00"/>
<rect x="644" y="679" width="3" height="43" fill="#00ff00"/>
<rect x="660" y="682" width="3" height="40" fill="#00ff00"/>
<rect x="676" y="682" width="3" height="40" fill="#00ff00"/>
<rect x="692" y="687" width="3" height="35" fill="#00ff00"/>
<rect x="708" y="691" width="3" height="31" fill="#00ff00"/>
<rect x="724" y="695" width="3" height="27" fill="#00ff00"/>
<rect x="740" y="699" width="3" height="23" fill="#00ff00"/>
<rect x="756" y="702" width="3" height="20" fill="#00ff00"/>
<rect x="772" y="705" width="3" height="17" fill="#00ff00"/>
<rect x="788" y="704" width="3" height="18" fill="#00ff00"/>
<rect x="804" y="702" width="3" height="20" fill="#00ff00"/>
<rect x="820" y="701" width="3" height="21" fill="#00ff00"/>
<rect x="836" y="701" width="3" height="21" fill="#00ff00"/>
<rect x="852" y="702" width="3" height="20" fill="#00ff00"/>
<rect x="868" y="703" width="3" height="19" fill="#00ff00"/>
<rect x="884" y="700" width="3" height="22" fill="#00ff00"/>
<rect x="900" y="699" width="3" height="23" fill="#00ff00"/>
<rect x="916" y="697" width="3" height="25" fill="#00ff00"/>
<rect x="932" y="696" width="3" height="26" fill="#00ff00"/>
<rect x="948" y="694" width="3" height="28" fill="#00ff00"/>
<rect x="964" y="693" width="3" height="29" fill="#00ff00"/>
<rect x="980" y="692" width="3" height="30" fill="#00ff00"/>
<rect x="996" y="687" width="3" height="35" fill="#00ff00"/>
<rect x="1012" y="684" width="3" height="38" fill="#00ff00"/>
<rect x="1028" y="680" width="3" height="42" fill="#00ff00"/>
<rect x="1044" y="677" width="3" height="45" fill="#00ff00"/>
<rect x="1060" y="677" width="3" height="45" fill="#00ff00"/>
<rect x="1076" y="673" width="3" height="49" fill="#00ff00"/>
<rect x="1092" y="670" width="3" height="52" fill="#00ff00"/>
<rect x="1108" y="668" width="3" height="54" fill="#00ff00"/>
<rect x="1124" y="667" width="3" height="55" fill="#00ff00"/>
<rect x="1140" y="665" width="3" height="57" fill="#00ff00"/>
<rect x="1156" y="665" width="3" height="57" fill="#00ff00"/>
<rect x="1172" y="664" width="3" height="58" fill="#00ff00"/>
<rect x="1188" y="666" width="3" height="56" fill="#00ff00"/>
<rect x="1204" y="667" width="3" height="55" fill="#00ff00"/>
<rect x="1220" y="661" width="3" height="61" fill="#00ff00"/>
<rect x="1236" y="658" width="3" height="64" fill="#00ff00"/>
<rect x="1252" y="658" width="3" height="64" fill="#00ff00"/>
<rect x="1268" y="650" width="3" height="72" fill="#00ff00"/>
<rect x="1284" y="641" width="3" height="81" fill="#00ff00"/>
<rect x="1300" y="635" width="3" height="87" fill="#00ff00"/>
<rect x="1316" y="632" width="3" height="90" fill="#00ff00"/>
<polyline points="5.5,717.1 21.5,711.7 37.5,705.2 53.5,698.8 69.5,693.4 85.5,690.2 101.5,687.2 117.5,685.2 133.5,685.2 149.5,685.2 165.5,686.4 181.5,687.2 197.5,689.4 213.5,692.4 229.5,696.2 245.5,699.2 261.5,703.8 277.5,707.8 293.5,710.7 309.5,713.7 325.5,714.1 341.5,714.7 357.5,714.1 373.5,713.3 389.5,711.7 405.5,707.4 421.5,703.8 437.5,697.4 453.5,692.8 469.5,687.4 485.5,683.8 501.5,678.8 517.5,674.5 533.5,671.5 549.5,669.5 565.5,668.9 581.5,669.5 597.5,670.5 613.5,671.5 629.5,672.5 645.5,674.5 661.5,676.8 677.5,677.4 693.5,679.4 709.5,681.4 725.5,683.8 741.5,686.4 757.5,688.4 773.5,691.4 789.5,694.4 805.5,696.8 821.5,698.8 837.5,700.8 853.5,701.8 869.5,702.2 885.5,702.2 901.5,701.4 917.5,700.4 933.5,700.2 949.5,699.8 965.5,698.4 981.5,697.8 997.5,695.2 1013.5,693.2 1029.5,691.2 1045.5,689.4 1061.5,687.4 1077.5,684.4 1093.5,681.4 1109.5,679.2 1125.5,676.2 1141.5,673.3 1157.5,671.5 1173.5,669.3 1189.5,668.3 1205.5,667.5 1221.5,666.5 1237.5,665.5 1253.5,663.5 1269.5,662.5 1285.5,659.3 1301.5,656.3 1317.5,652.5" fill="none" stroke="#ff0000" stroke-width="2" shape-rendering="crispEdges" stroke-linejoin="round"/>
<text x="9" y="639" fill="#000" stroke="#000" stroke-width="0.22" font-size="10" textLength="138" lengthAdjust="spacingAndGlyphs">MACD(12,26,9) 37.9208 29.4060</text>
<text x="1606" y="637" fill="#000" stroke="#000" stroke-width="0.22" font-size="10" textLength="33" lengthAdjust="spacingAndGlyphs">39.7863</text>
<rect x="1603" y="628" width="2" height="1" fill="#000"/>
<text x="1610" y="722" fill="#000" stroke="#000" stroke-width="0.22" font-size="10" textLength="27" lengthAdjust="spacingAndGlyphs">1.2537</text>
<text x="1606" y="725" fill="#000" stroke="#000" stroke-width="0.22" font-size="10" textLength="17" lengthAdjust="spacingAndGlyphs" clip-path="url(#cm)">0.00</text>
<rect x="1603" y="722" width="2" height="1" fill="#000"/>
<line x1="6" y1="743.5" x2="1602" y2="743.5" stroke="#000" stroke-width="1" stroke-dasharray="3 3"/>
<line x1="6" y1="765.5" x2="1602" y2="765.5" stroke="#000" stroke-width="1" stroke-dasharray="3 3"/>
<line x1="6" y1="791.5" x2="1602" y2="791.5" stroke="#000" stroke-width="1" stroke-dasharray="3 3"/>
<polyline points="5.5,753.9 21.5,753.9 37.5,754.5 53.5,754.5 69.5,754.5 85.5,753.3 101.5,751.9 117.5,759.5 133.5,760.9 149.5,760.9 165.5,764.3 181.5,764.9 197.5,767.3 213.5,772.9 229.5,769.3 245.5,767.9 261.5,767.9 277.5,767.9 293.5,766.9 309.5,758.9 325.5,757.3 341.5,756.3 357.5,755.3 373.5,752.9 389.5,752.3 405.5,745.3 421.5,745.3 437.5,746.9 453.5,746.9 469.5,746.9 485.5,745.9 501.5,745.9 517.5,754.5 533.5,755.9 549.5,754.3 565.5,753.9 581.5,755.9 597.5,752.9 613.5,752.9 629.5,752.5 645.5,751.9 661.5,757.9 677.5,754.9 693.5,762.9 709.5,763.3 725.5,763.5 741.5,764.9 757.5,764.9 773.5,764.5 789.5,758.9 805.5,755.9 821.5,756.9 837.5,756.9 853.5,758.9 869.5,757.3 885.5,756.9 901.5,754.3 917.5,752.9 933.5,752.9 949.5,750.9 965.5,751.9 981.5,751.9 997.5,744.9 1013.5,744.9 1029.5,744.9 1045.5,743.9 1061.5,748.9 1077.5,745.3 1093.5,744.9 1109.5,744.3 1125.5,744.9 1141.5,743.9 1157.5,744.9 1173.5,743.9 1189.5,749.9 1205.5,749.9 1221.5,743.9 1237.5,743.9 1253.5,749.9 1269.5,742.9 1285.5,742.5 1301.5,743.9 1317.5,743.9" fill="none" stroke="#1e90ff" stroke-width="2" shape-rendering="crispEdges" stroke-linejoin="round"/>
<text x="9" y="740" fill="#000" stroke="#000" stroke-width="0.22" font-size="10" textLength="68" lengthAdjust="spacingAndGlyphs">RSI(14) 79.5934</text>
<text x="1606" y="737.5" fill="#000" stroke="#000" stroke-width="0.22" font-size="10" textLength="15" lengthAdjust="spacingAndGlyphs">100</text>
<text x="1605.5" y="746.5" fill="#000" stroke="#000" stroke-width="0.22" font-size="10" textLength="10" lengthAdjust="spacingAndGlyphs">80</text>
<text x="1605.5" y="768.5" fill="#000" stroke="#000" stroke-width="0.22" font-size="10" textLength="10" lengthAdjust="spacingAndGlyphs">50</text>
<text x="1606" y="794.5" fill="#000" stroke="#000" stroke-width="0.22" font-size="10" textLength="10" lengthAdjust="spacingAndGlyphs">15</text>
<text x="1606" y="800" fill="#000" stroke="#000" stroke-width="0.22" font-size="10" textLength="5" lengthAdjust="spacingAndGlyphs">0</text>
<rect x="1603" y="728" width="2" height="1" fill="#000"/>
<rect x="1603" y="802" width="2" height="1" fill="#000"/>
<rect x="5" y="804" width="1" height="3" fill="#000"/>
<text x="4" y="816" fill="#000" stroke="#000" stroke-width="0.22" font-size="10" textLength="54.8" lengthAdjust="spacingAndGlyphs">29 May 2023</text>
<rect x="69" y="804" width="1" height="3" fill="#000"/>
<text x="68" y="816" fill="#000" stroke="#000" stroke-width="0.22" font-size="10" textLength="57.5" lengthAdjust="spacingAndGlyphs">30 May 00:00</text>
<rect x="133" y="804" width="1" height="3" fill="#000"/>
<text x="132" y="816" fill="#000" stroke="#000" stroke-width="0.22" font-size="10" textLength="57.5" lengthAdjust="spacingAndGlyphs">30 May 16:00</text>
<rect x="197" y="804" width="1" height="3" fill="#000"/>
<text x="196" y="816" fill="#000" stroke="#000" stroke-width="0.22" font-size="10" textLength="57.5" lengthAdjust="spacingAndGlyphs">31 May 08:00</text>
<rect x="261" y="804" width="1" height="3" fill="#000"/>
<text x="260" y="816" fill="#000" stroke="#000" stroke-width="0.22" font-size="10" textLength="47.8" lengthAdjust="spacingAndGlyphs">1 Jun 00:00</text>
<rect x="325" y="804" width="1" height="3" fill="#000"/>
<text x="324" y="816" fill="#000" stroke="#000" stroke-width="0.22" font-size="10" textLength="47.8" lengthAdjust="spacingAndGlyphs">1 Jun 16:00</text>
<rect x="389" y="804" width="1" height="3" fill="#000"/>
<text x="388" y="816" fill="#000" stroke="#000" stroke-width="0.22" font-size="10" textLength="47.8" lengthAdjust="spacingAndGlyphs">2 Jun 08:00</text>
<rect x="453" y="804" width="1" height="3" fill="#000"/>
<text x="452" y="816" fill="#000" stroke="#000" stroke-width="0.22" font-size="10" textLength="47.8" lengthAdjust="spacingAndGlyphs">5 Jun 00:00</text>
<rect x="517" y="804" width="1" height="3" fill="#000"/>
<text x="516" y="816" fill="#000" stroke="#000" stroke-width="0.22" font-size="10" textLength="47.8" lengthAdjust="spacingAndGlyphs">5 Jun 16:00</text>
<rect x="581" y="804" width="1" height="3" fill="#000"/>
<text x="580" y="816" fill="#000" stroke="#000" stroke-width="0.22" font-size="10" textLength="47.8" lengthAdjust="spacingAndGlyphs">6 Jun 08:00</text>
<rect x="645" y="804" width="1" height="3" fill="#000"/>
<text x="644" y="816" fill="#000" stroke="#000" stroke-width="0.22" font-size="10" textLength="47.8" lengthAdjust="spacingAndGlyphs">7 Jun 00:00</text>
<rect x="709" y="804" width="1" height="3" fill="#000"/>
<text x="708" y="816" fill="#000" stroke="#000" stroke-width="0.22" font-size="10" textLength="47.8" lengthAdjust="spacingAndGlyphs">7 Jun 16:00</text>
<rect x="773" y="804" width="1" height="3" fill="#000"/>
<text x="772" y="816" fill="#000" stroke="#000" stroke-width="0.22" font-size="10" textLength="47.8" lengthAdjust="spacingAndGlyphs">8 Jun 08:00</text>
<rect x="837" y="804" width="1" height="3" fill="#000"/>
<text x="836" y="816" fill="#000" stroke="#000" stroke-width="0.22" font-size="10" textLength="47.8" lengthAdjust="spacingAndGlyphs">9 Jun 00:00</text>
<rect x="901" y="804" width="1" height="3" fill="#000"/>
<text x="900" y="816" fill="#000" stroke="#000" stroke-width="0.22" font-size="10" textLength="47.8" lengthAdjust="spacingAndGlyphs">9 Jun 16:00</text>
<rect x="965" y="804" width="1" height="3" fill="#000"/>
<text x="964" y="816" fill="#000" stroke="#000" stroke-width="0.22" font-size="10" textLength="52.9" lengthAdjust="spacingAndGlyphs">12 Jun 08:00</text>
<rect x="1029" y="804" width="1" height="3" fill="#000"/>
<text x="1028" y="816" fill="#000" stroke="#000" stroke-width="0.22" font-size="10" textLength="52.9" lengthAdjust="spacingAndGlyphs">13 Jun 00:00</text>
<rect x="1093" y="804" width="1" height="3" fill="#000"/>
<text x="1092" y="816" fill="#000" stroke="#000" stroke-width="0.22" font-size="10" textLength="52.9" lengthAdjust="spacingAndGlyphs">13 Jun 16:00</text>
<rect x="1157" y="804" width="1" height="3" fill="#000"/>
<text x="1156" y="816" fill="#000" stroke="#000" stroke-width="0.22" font-size="10" textLength="52.9" lengthAdjust="spacingAndGlyphs">14 Jun 08:00</text>
<rect x="1221" y="804" width="1" height="3" fill="#000"/>
<text x="1220" y="816" fill="#000" stroke="#000" stroke-width="0.22" font-size="10" textLength="52.9" lengthAdjust="spacingAndGlyphs">15 Jun 00:00</text>
<rect x="1285" y="804" width="1" height="3" fill="#000"/>
<text x="1284" y="816" fill="#000" stroke="#000" stroke-width="0.22" font-size="10" textLength="52.9" lengthAdjust="spacingAndGlyphs">15 Jun 16:00</text>
</svg>
</body>
</html>
